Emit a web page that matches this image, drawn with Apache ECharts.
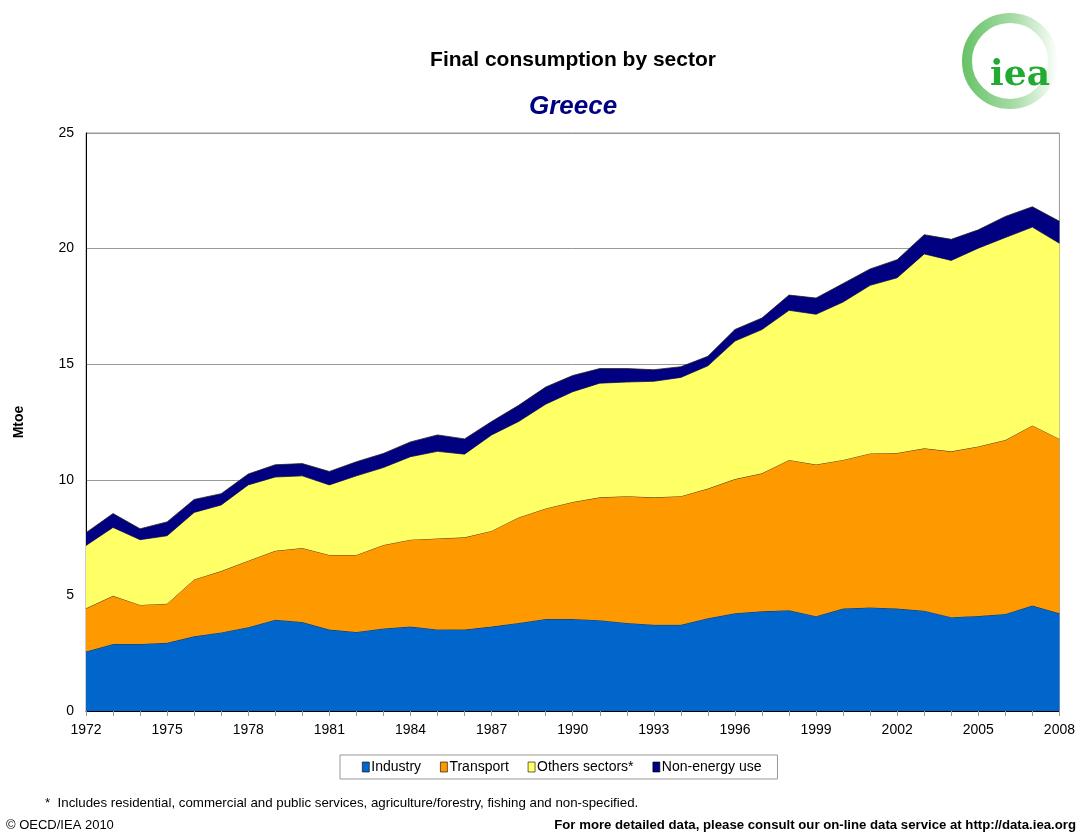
<!DOCTYPE html>
<html>
<head>
<meta charset="utf-8">
<script src="https://cdn.jsdelivr.net/npm/echarts@6/dist/echarts.min.js"></script>
<style>
html,body{margin:0;padding:0;background:#fff;}
#c{width:1078px;height:832px;}
</style>
</head>
<body>
<div id="c"></div>
<script>
const years = [];
for (let y = 1972; y <= 2008; y++) years.push(String(y));

const industry = [2.57,2.90,2.90,2.95,3.23,3.40,3.62,3.95,3.85,3.52,3.42,3.57,3.65,3.53,3.52,3.65,3.81,3.98,3.98,3.93,3.81,3.73,3.73,4.01,4.23,4.31,4.36,4.10,4.43,4.48,4.43,4.34,4.06,4.11,4.20,4.56,4.23];
const transport = [1.87,2.08,1.69,1.69,2.46,2.65,2.88,2.98,3.20,3.23,3.33,3.61,3.76,3.93,3.99,4.14,4.56,4.78,5.06,5.31,5.48,5.51,5.56,5.61,5.80,5.97,6.50,6.56,6.43,6.66,6.73,7.02,7.17,7.33,7.52,7.79,7.54];
const others = [2.72,2.96,2.82,2.94,2.90,2.86,3.28,3.19,3.12,3.03,3.42,3.35,3.59,3.77,3.60,4.15,4.15,4.51,4.77,4.94,4.94,5.02,5.14,5.31,5.97,6.22,6.47,6.50,6.83,7.27,7.58,8.41,8.26,8.58,8.76,8.58,8.46];
const nonEnergy = [0.55,0.60,0.47,0.60,0.56,0.49,0.47,0.53,0.53,0.58,0.61,0.61,0.64,0.71,0.66,0.58,0.70,0.74,0.70,0.63,0.58,0.50,0.46,0.41,0.50,0.50,0.66,0.70,0.80,0.71,0.78,0.83,0.91,0.79,0.91,0.88,0.95];

const seriesNames = ['Industry','Transport','Others sectors*','Non-energy use'];
const seriesColors = ['#0066CC','#FF9900','#FFFF66','#000080'];
const seriesData = [industry, transport, others, nonEnergy];

const chart = echarts.init(document.getElementById('c'), null, {renderer:'canvas'});
const FONT = 'Liberation Sans, Arial, sans-serif';
const NARROW = '"Liberation Sans Narrow", "Arial Narrow", Liberation Sans, sans-serif';

const option = {
  backgroundColor:'#fff',
  animation:false,
  grid:{left:86, right:16, top:133, bottom:121, show:true, borderColor:'#999', borderWidth:1},
  legend:{
    left:340, top:755, width:433,
    padding:[5,16,5,22],
    itemGap:19, itemWidth:7, itemHeight:10,
    icon:'rect',
    borderColor:'#999', borderWidth:1,
    textStyle:{fontFamily:NARROW, fontSize:14, color:'#000', padding:[0,0,0,-3]},
    data:seriesNames.map((n,i)=>({name:n, itemStyle:{color:seriesColors[i], borderColor:'#000', borderWidth:0.6}}))
  },
  xAxis:{
    type:'category', data:years, boundaryGap:false,
    axisLine:{lineStyle:{color:'#000', width:1}},
    axisTick:{show:true, interval:0, length:5, lineStyle:{color:'#999'}},
    axisLabel:{interval:2, color:'#000', fontFamily:FONT, fontSize:14, margin:12},
    splitLine:{show:false}
  },
  yAxis:{
    type:'value', min:0, max:25, interval:5,
    name:'Mtoe', nameLocation:'middle', nameGap:60, nameRotate:90,
    nameTextStyle:{fontFamily:FONT, fontSize:14, fontWeight:'bold', color:'#000'},
    axisLine:{show:true, lineStyle:{color:'#000', width:1}},
    axisTick:{show:false},
    axisLabel:{color:'#000', fontFamily:FONT, fontSize:14, margin:12},
    splitLine:{lineStyle:{color:'#999', width:1}}
  },
  series:seriesNames.map((n,i)=>({
    name:n, type:'line', stack:'total', data:seriesData[i],
    showSymbol:false, symbol:'none',
    lineStyle:{color:'#222', width:0.8},
    itemStyle:{color:seriesColors[i]},
    areaStyle:{color:seriesColors[i], opacity:1},
    z:2+i
  })),
  graphic:[
    {type:'text', x:573, y:60, style:{text:'Final consumption by sector', fontFamily:FONT, fontSize:21, fontWeight:'bold', fill:'#000', textAlign:'center', textVerticalAlign:'middle'}},
    {type:'text', x:573, y:107, style:{text:'Greece', fontFamily:FONT, fontSize:26, fontWeight:'bold', fontStyle:'italic', fill:'#000080', textAlign:'center', textVerticalAlign:'middle'}},
    {type:'text', x:45, y:803, style:{text:'*  Includes residential, commercial and public services, agriculture/forestry, fishing and non-specified.', fontFamily:NARROW, fontSize:13.3, fill:'#000', textVerticalAlign:'middle'}},
    {type:'text', x:6, y:825, style:{text:'© OECD/IEA 2010', fontFamily:NARROW, fontSize:13, fill:'#000', textVerticalAlign:'middle'}},
    {type:'text', x:1076, y:825, style:{text:'For more detailed data, please consult our on-line data service at http://data.iea.org', fontFamily:NARROW, fontSize:13.2, fontWeight:'bold', fill:'#000', textAlign:'right', textVerticalAlign:'middle'}},
    {type:'arc', shape:{cx:1010, cy:61, r:43, startAngle:0, endAngle:Math.PI*2}, style:{fill:null, lineWidth:10, stroke:new echarts.graphic.LinearGradient(0,0,1,0,[{offset:0,color:'#66C266'},{offset:0.55,color:'#A8DCA8'},{offset:1,color:'#FFFFFF'}])}},
    {type:'text', x:1020, y:76, style:{text:'iea', fontFamily:'DejaVu Serif, serif', fontSize:36, fontWeight:'bold', fill:'#22AA33', textAlign:'center', textVerticalAlign:'middle'}}
  ]
};
chart.setOption(option);
</script>
</body>
</html>
